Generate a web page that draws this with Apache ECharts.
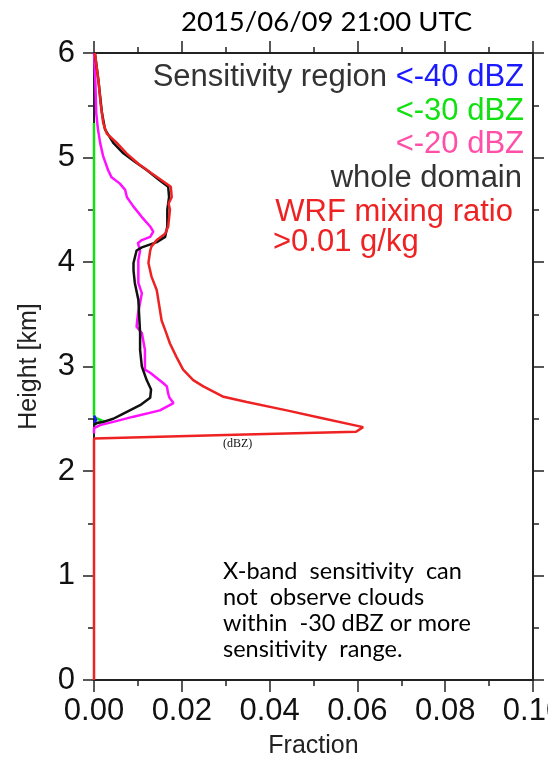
<!DOCTYPE html>
<html>
<head>
<meta charset="utf-8">
<script src="https://cdn.jsdelivr.net/npm/echarts@6/dist/echarts.min.js"></script>
<style>
  html, body { margin: 0; padding: 0; background: #fff; }
  #chart { width: 548px; height: 761px; }
</style>
</head>
<body>
<div id="chart"></div>
<script>
// [fraction, height km]
const xTickLabels = ['0.00', '0.02', '0.04', '0.06', '0.08', '0.10']
const yTickLabels = ['0', '1', '2', '3', '4', '5', '6']

const below40 = [[0, 2.46], [0.0005, 2.49], [0, 2.53]]

const below30 = [[0, 2.45], [0.0008, 2.46], [0.0025, 2.47], [0.0008, 2.50], [0, 2.52], [0, 5.33]]

const below20 = [
  [0, 2.36], [0, 2.41], [0.0014, 2.44], [0.0044, 2.47], [0.0090, 2.52], [0.0150, 2.58],
  [0.0181, 2.65], [0.0172, 2.70], [0.0169, 2.74], [0.0166, 2.81], [0.0158, 2.84],
  [0.0128, 2.94], [0.0116, 2.97], [0.0116, 3.16], [0.0109, 3.32], [0.0097, 3.38],
  [0.0100, 3.50], [0.0109, 3.70], [0.0101, 3.80], [0.0101, 4.02], [0.0105, 4.11],
  [0.0100, 4.18], [0.0109, 4.21], [0.0128, 4.24], [0.0135, 4.29], [0.0128, 4.34],
  [0.0109, 4.43], [0.0090, 4.53], [0.0075, 4.62], [0.0071, 4.69], [0.0059, 4.75],
  [0.0040, 4.81], [0.0032, 4.88], [0.0021, 5.01], [0.0014, 5.14], [0.0009, 5.27],
  [0.0005, 5.43], [0.0003, 5.74], [0, 6.0]
]

const wholeDomain = [
  [0, 2.44], [0.0006, 2.46], [0.0021, 2.47], [0.0044, 2.50], [0.0067, 2.55], [0.0105, 2.63],
  [0.0128, 2.70], [0.0130, 2.78], [0.0120, 2.87], [0.0109, 3.00], [0.0105, 3.16],
  [0.0105, 3.32], [0.0101, 3.64], [0.0093, 3.80], [0.0090, 3.92], [0.0090, 3.99],
  [0.0097, 4.11], [0.0109, 4.14], [0.0143, 4.19], [0.0162, 4.24], [0.0167, 4.34],
  [0.0167, 4.50], [0.0171, 4.62], [0.0169, 4.72], [0.0150, 4.78], [0.0120, 4.88],
  [0.0093, 4.96], [0.0067, 5.04], [0.0044, 5.14], [0.0025, 5.27], [0.0018, 5.43],
  [0.0010, 5.74], [0.0002, 6.0]
]

const wrfRatio = [
  [0, 0], [0, 2.31], [0.0004, 2.32], [0.0300, 2.345], [0.0597, 2.376], [0.0613, 2.42],
  [0.0515, 2.51], [0.0439, 2.58], [0.0348, 2.66], [0.0295, 2.71], [0.0249, 2.81],
  [0.0226, 2.87], [0.0203, 2.97], [0.0188, 3.09], [0.0173, 3.22], [0.0162, 3.35],
  [0.0154, 3.44], [0.0143, 3.73], [0.0131, 3.86], [0.0124, 3.99], [0.0128, 4.11],
  [0.0131, 4.15], [0.0143, 4.21], [0.0162, 4.27], [0.0169, 4.34], [0.0173, 4.50],
  [0.0170, 4.56], [0.0177, 4.62], [0.0175, 4.72], [0.0158, 4.77], [0.0131, 4.85],
  [0.0101, 4.94], [0.0074, 5.04], [0.0052, 5.14], [0.0029, 5.23], [0.0021, 5.33],
  [0.0015, 5.52], [0.0010, 5.74], [0.0002, 6.0]
]

const noteLines = [
  'X-band  sensitivity  can',
  'not  observe clouds',
  'within  -30 dBZ or more',
  'sensitivity  range.'
]

const chart = echarts.init(document.getElementById('chart'))

const axisFont = '"Liberation Sans", Arial, sans-serif'
const frameLine = { color: '#222', width: 2 }

function xAxisBase(pos, showLabel) {
  return {
    type: 'value', position: pos, min: 0, max: 0.1, interval: 0.02,
    axisLine: { show: true, onZero: false, lineStyle: frameLine },
    axisTick: { show: true, length: 12, lineStyle: { color: '#222', width: 1.5 } },
    minorTick: { show: true, splitNumber: 2, length: 6, lineStyle: { color: '#222', width: 1.5 } },
    splitLine: { show: false },
    axisLabel: {
      show: showLabel, fontSize: 31, margin: 16, color: '#111', fontFamily: axisFont,
      hideOverlap: false,
      formatter: (v) => xTickLabels[Math.round(v / 0.02)]
    }
  }
}

function yAxisBase(pos, showLabel) {
  return {
    type: 'value', position: pos, min: 0, max: 6, interval: 1,
    axisLine: { show: true, onZero: false, lineStyle: frameLine },
    axisTick: { show: true, length: 11, lineStyle: { color: '#222', width: 1.5 } },
    minorTick: { show: true, splitNumber: 2, length: 6, lineStyle: { color: '#222', width: 1.5 } },
    splitLine: { show: false },
    axisLabel: {
      show: showLabel, fontSize: 31, margin: 19, color: '#111', fontFamily: axisFont,
      formatter: (v) => yTickLabels[Math.round(v)]
    }
  }
}

function profile(name, data, color) {
  return {
    name, type: 'line', data, showSymbol: false, symbol: 'none',
    lineStyle: { color, width: 2.5 }, xAxisIndex: 0, yAxisIndex: 0,
    z: 3
  }
}

const bottomX = xAxisBase('bottom', true)
bottomX.name = 'Fraction'
bottomX.nameLocation = 'middle'
bottomX.nameGap = 54
bottomX.nameTextStyle = { fontSize: 25, color: '#222', fontFamily: axisFont }

const leftY = yAxisBase('left', true)
leftY.name = 'Height [km]'
leftY.nameLocation = 'middle'
leftY.nameGap = 52
leftY.nameTextStyle = { fontSize: 25, color: '#222', fontFamily: axisFont }

function legendText(right, y, text, color) {
  return {
    type: 'text', right, top: y,
    style: { text, fill: color, fontSize: 31, fontFamily: axisFont, textAlign: 'right' }
  }
}

chart.setOption({
  animation: false,
  grid: { left: 94, right: 15, top: 53, bottom: 81, containLabel: false, outerBoundsMode: 'none' },
  xAxis: [bottomX, xAxisBase('top', false)],
  yAxis: [leftY, yAxisBase('right', false)],
  series: [
    profile('<-30 dBZ', below30, '#11e011'),
    profile('<-40 dBZ', below40, '#1a1aff'),
    profile('<-20 dBZ', below20, '#ff10ff'),
    profile('whole domain', wholeDomain, '#111111'),
    profile('WRF mixing ratio', wrfRatio, '#ee2222')
  ],
  graphic: [
    {
      type: 'text', left: 181, top: 8,
      style: { text: '2015/06/09 21:00 UTC', fill: '#000', fontSize: 27.5, fontFamily: 'Lato, sans-serif' }
    },
    {
      type: 'text', right: 24, top: 62,
      style: {
        text: '{a|Sensitivity region }{b|<-40 dBZ}',
        rich: {
          a: { fill: '#333', fontSize: 31, fontFamily: axisFont },
          b: { fill: '#1a1aff', fontSize: 31, fontFamily: axisFont }
        }
      }
    },
    legendText(24, 96, '<-30 dBZ', '#11e011'),
    legendText(24, 129, '<-20 dBZ', '#ff4fa8'),
    legendText(26, 163, 'whole domain', '#333'),
    legendText(35, 197, 'WRF mixing ratio', '#ee2222'),
    {
      type: 'text', left: 273, top: 227,
      style: { text: '>0.01 g/kg', fill: '#ee2222', fontSize: 31, fontFamily: axisFont }
    },
    {
      type: 'text', left: 223, top: 438,
      style: { text: '(dBZ)', fill: '#111', fontSize: 12, fontFamily: '"Liberation Serif", serif' }
    },
    {
      type: 'text', left: 223, top: 558,
      style: { text: noteLines.join('\n'), fill: '#000', fontSize: 23.5, fontFamily: 'Lato, sans-serif', lineHeight: 26 }
    }
  ]
})
</script>
</body>
</html>
